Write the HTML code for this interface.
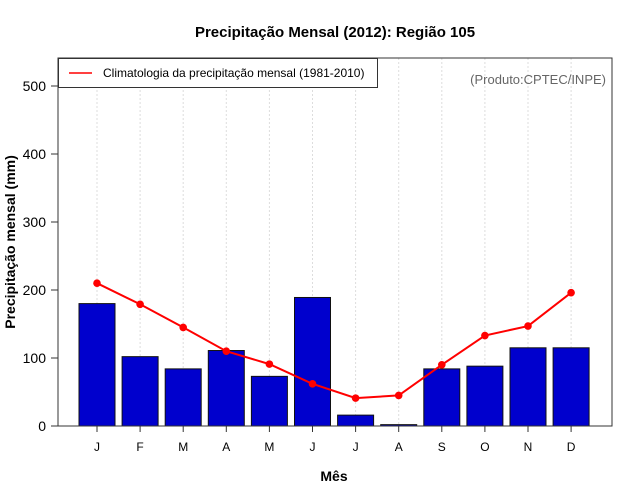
<!DOCTYPE html>
<html><head><meta charset="utf-8"><style>
body{margin:0;background:#fff;}
svg{display:block;font-family:"Liberation Sans",sans-serif;}
</style></head><body>
<svg id="c" width="640" height="500">
<text x="335" y="37" text-anchor="middle" font-size="15" font-weight="bold">Precipitação Mensal (2012): Região 105</text>
<text x="334" y="481" text-anchor="middle" font-size="14" font-weight="bold">Mês</text>
<text transform="translate(15,242) rotate(-90)" text-anchor="middle" font-size="14" font-weight="bold">Precipitação mensal (mm)</text>
<g id="grid"></g><g id="bars"></g><g id="line"></g><g id="axes"></g>
<rect x="58" y="58" width="554" height="368" fill="none" stroke="#333" stroke-width="1"/>
<g>
<rect x="58.5" y="58.5" width="319" height="29" fill="#fff" stroke="#333"/>
<line x1="69" y1="73" x2="92" y2="73" stroke="red" stroke-width="1.5"/>
<text x="103" y="77" font-size="12">Climatologia da precipitação mensal (1981-2010)</text>
</g>
<text x="606" y="84" text-anchor="end" font-size="13" fill="#666">(Produto:CPTEC/INPE)</text>
</svg>
<script>
const months=["J","F","M","A","M","J","J","A","S","O","N","D"];
const precip=[180,102,84,111,73,189,16,2,84,88,115,115];
const clim=[210,179,145,110,91,62,41,45,90,133,147,196];
const yTicks=[0,100,200,300,400,500];
const NS="http://www.w3.org/2000/svg";
const xs=i=>97+i*43.1;
const ys=v=>426-v*0.68;
function mk(t,a,p){const e=document.createElementNS(NS,t);for(const k in a)e.setAttribute(k,a[k]);p.appendChild(e);return e;}
const grid=document.getElementById('grid'),bars=document.getElementById('bars'),line=document.getElementById('line'),axes=document.getElementById('axes');
months.forEach((m,i)=>{
 const g=mk('line',{x1:xs(i),x2:xs(i),y1:58,y2:426,stroke:'#ddd','stroke-dasharray':'2,2'},grid);
 
 
 const b=mk('rect',{x:xs(i)-18,y:ys(precip[i]),width:36,height:precip[i]*0.68,fill:'#0000CD',stroke:'#111','stroke-width':1},bars);
 
 
 const t=mk('line',{x1:xs(i),x2:xs(i),y1:426,y2:432,stroke:'#333'},axes);
 
 
 const l=mk('text',{x:xs(i),y:451,'text-anchor':'middle','font-size':12},axes);
 l.textContent=m;
 
 
});
const pl=mk('polyline',{points:clim.map((v,i)=>xs(i)+','+ys(v)).join(' '),fill:'none',stroke:'red','stroke-width':2},line);


clim.forEach((v,i)=>{
 const c=mk('circle',{cx:xs(i),cy:ys(v),r:3.8,fill:'red'},line);
 
 
});
yTicks.forEach(v=>{
 const t=mk('line',{x1:51,x2:58,y1:ys(v),y2:ys(v),stroke:'#333'},axes);
 
 
 const l=mk('text',{x:46,y:ys(v)+5,'text-anchor':'end','font-size':14},axes);
 l.textContent=v;
 
 
});
</script>
</body></html>
